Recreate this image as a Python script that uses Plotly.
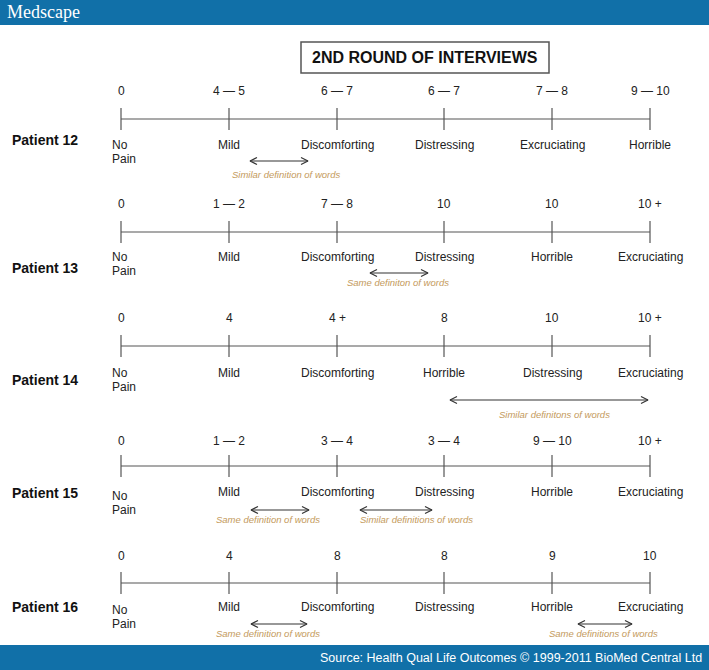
import plotly.graph_objects as go

# ---- data -------------------------------------------------------------
PATIENTS = ["Patient 12", "Patient 13", "Patient 14", "Patient 15", "Patient 16"]

SCORES = [
    ["0", "4 — 5", "6 — 7", "6 — 7", "7 — 8", "9 — 10"],
    ["0", "1 — 2", "7 — 8", "10", "10", "10 +"],
    ["0", "4", "4 +", "8", "10", "10 +"],
    ["0", "1 — 2", "3 — 4", "3 — 4", "9 — 10", "10 +"],
    ["0", "4", "8", "8", "9", "10"],
]

WORDS = [
    ["No Pain", "Mild", "Discomforting", "Distressing", "Excruciating", "Horrible"],
    ["No Pain", "Mild", "Discomforting", "Distressing", "Horrible", "Excruciating"],
    ["No Pain", "Mild", "Discomforting", "Horrible", "Distressing", "Excruciating"],
    ["No Pain", "Mild", "Discomforting", "Distressing", "Horrible", "Excruciating"],
    ["No Pain", "Mild", "Discomforting", "Distressing", "Horrible", "Excruciating"],
]

# notes about words with the same / similar meaning, per patient
NOTES = [
    ["Similar definition of words"],
    ["Same definiton of words"],
    ["Similar definitons of words"],
    ["Same definition of words", "Similar definitions of words"],
    ["Same definition of words", "Same definitions of words"],
]

TITLE = "2ND ROUND OF INTERVIEWS"
SOURCE = "Source: Health Qual Life Outcomes © 1999-2011 BioMed Central Ltd"

# ---- layout (pixels) --------------------------------------------------
W, H = 709, 670
TICK_X = [121, 229, 337, 444, 552, 650]
LINE_Y = [119, 232, 346, 466, 583]
NUM_Y = [91, 204, 318, 441, 556]
WORD_Y = [145, 257, 373, 492, 607]
NOPAIN_Y = [145, 257, 373, 496, 610]
LABEL_Y = [140, 268, 380, 493, 607]
# arrow spans (x0, x1), arrow y, text centre x, text y
ARROWS = [
    [(250, 308, 161, 286, 174)],
    [(370, 428, 273, 398, 282)],
    [(450, 648, 400, 554, 414)],
    [(251, 309, 510, 268, 519), (360, 432, 510, 416, 519)],
    [(251, 307, 624, 268, 633), (578, 632, 624, 603, 633)],
]

BLUE = "#1170a8"
LINE_COL = "#555555"
NOTE_COL = "#c49a5c"
FONT = "Liberation Sans, Arial, sans-serif"

fig = go.Figure()
annotations = []

for p, name in enumerate(PATIENTS):
    y0 = LINE_Y[p]

    # main scale line with ticks
    xs, ys = [TICK_X[0], TICK_X[-1], None], [y0, y0, None]
    for tx in TICK_X:
        xs += [tx, tx, None]
        ys += [y0 - 11, y0 + 11, None]
    fig.add_trace(go.Scatter(x=xs, y=ys, mode='lines', hoverinfo='skip',
                             line=dict(color=LINE_COL, width=1.2)))

    # scores above ticks
    for tx, s in zip(TICK_X, SCORES[p]):
        annotations.append(dict(x=tx, y=NUM_Y[p], text=s, showarrow=False,
                                font=dict(family=FONT, size=12, color="#222")))

    # words below ticks
    for i, (tx, w) in enumerate(zip(TICK_X, WORDS[p])):
        if i == 0:
            # "No Pain" is written on two lines, left aligned
            for k, part in enumerate(w.split(" ")):
                annotations.append(dict(x=110, y=NOPAIN_Y[p] + 13.5 * k, text=part,
                                        showarrow=False, xanchor='left',
                                        font=dict(family=FONT, size=12, color="#222")))
        else:
            annotations.append(dict(x=tx, y=WORD_Y[p], text=w, showarrow=False,
                                    font=dict(family=FONT, size=12, color="#222")))

    # patient label
    annotations.append(dict(x=10, y=LABEL_Y[p], text=f"<b>{name}</b>", showarrow=False,
                            xanchor='left', font=dict(family=FONT, size=14, color="#111")))

    # double-headed arrows with notes
    for note, (ax0, ax1, ay, tx, ty) in zip(NOTES[p], ARROWS[p]):
        hl, hh = 7, 3.5
        xs = [ax0, ax1, None, ax0 + hl, ax0, ax0 + hl, None, ax1 - hl, ax1, ax1 - hl]
        ys = [ay, ay, None, ay - hh, ay, ay + hh, None, ay - hh, ay, ay + hh]
        fig.add_trace(go.Scatter(x=xs, y=ys, mode='lines', hoverinfo='skip',
                                 line=dict(color="#333", width=1.2)))
        annotations.append(dict(x=tx, y=ty, text=f"<i>{note}</i>", showarrow=False,
                                font=dict(family=FONT, size=9.5, color=NOTE_COL)))

# title box
annotations.append(dict(x=425, y=57, text=f"<b>{TITLE}</b>", showarrow=False,
                        font=dict(family=FONT, size=16, color="#111")))
# banners text
annotations.append(dict(x=5, y=12, text="Medscape", showarrow=False, xanchor='left',
                        font=dict(family="Liberation Serif, serif", size=18, color="white")))
annotations.append(dict(x=704, y=658, text=SOURCE, showarrow=False, xanchor='right',
                        font=dict(family=FONT, size=12.5, color="white")))

shapes = [
    dict(type='rect', x0=0, x1=W, y0=0, y1=25, fillcolor=BLUE, line=dict(width=0), layer='below'),
    dict(type='rect', x0=0, x1=W, y0=645, y1=H, fillcolor=BLUE, line=dict(width=0), layer='below'),
    dict(type='rect', x0=301, x1=549, y0=42, y1=73, line=dict(color="#555", width=1.5)),
]

fig.update_layout(
    width=W, height=H,
    margin=dict(l=0, r=0, t=0, b=0),
    paper_bgcolor='white', plot_bgcolor='white',
    showlegend=False,
    xaxis=dict(range=[0, W], visible=False, fixedrange=True),
    yaxis=dict(range=[H, 0], visible=False, fixedrange=True),
    annotations=annotations,
    shapes=shapes,
)

# drop the browser's default body margin so the figure fills the window
fig.write_html("out.html", config={'displayModeBar': False},
               post_script="document.body.style.margin='0';document.body.style.overflow='hidden';")
